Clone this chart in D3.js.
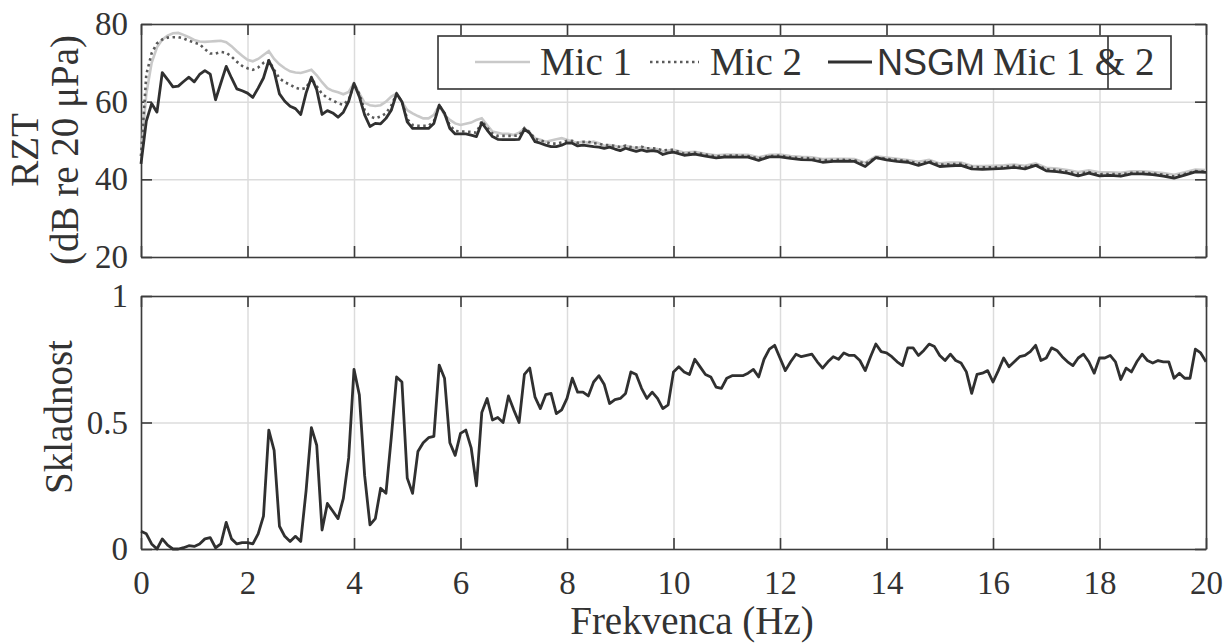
<!DOCTYPE html>
<html>
<head>
<meta charset="utf-8">
<script src="https://cdn.jsdelivr.net/npm/d3@7"></script>
</head>
<body style="margin:0">
<script>
let w = 1227;
let h = 643;

// frequency grid: 0.1 Hz up to 10 Hz, then 0.2 Hz up to 20 Hz (top panel)
let freqTop = d3.range(0, 101).map(i => i / 10).concat(d3.range(51, 101).map(i => i / 5));
// coherence is sampled at 0.1 Hz over the whole range
let freqCoh = d3.range(0, 201).map(i => i / 10);

let mic1 = [
  46, 62, 70, 74, 76, 77, 77.6, 77.7, 77.2, 76.6,
  75.9, 75.5, 75.4, 75.5, 75.6, 75.7, 75.3, 74.3, 73, 71.8,
  70.8, 70.4, 71, 72, 73, 71, 69.6, 68.6, 67.8, 67.5,
  67.4, 67.8, 68.2, 66.8, 65, 63.5, 62.8, 62.4, 61.9, 62.5,
  64.8, 62.1, 59.7, 59.1, 58.9, 59.1, 60, 61.3, 62.1, 60,
  57.8, 57, 56.3, 55.7, 55.7, 56.6, 59.1, 56.6, 55.3, 54.4,
  54, 54.3, 54.6, 55.3, 55.7, 54, 52.3, 52, 51.7, 51.7,
  51.4, 52, 53.1, 52, 50.6, 50.2, 49.7, 50, 50.3, 50.6,
  50.2, 49.7, 49.4, 49.7, 49.4, 49.7, 49.3, 48.6, 48.8, 48.6,
  48.3, 48.6, 48.3, 48, 48.3, 48, 47.8, 47.8, 47.2, 47.4,
  47.6,
  46.9, 47.1, 46.6, 46.2, 46.4, 46.3, 46.3, 45.7, 46.3, 46.4,
  46.0, 45.8, 45.7, 45.2, 45.3, 45.3, 45.2, 44.3, 45.9, 45.6,
  45.3, 45.0, 44.5, 45.0, 44.1, 44.3, 44.3, 43.5, 43.4, 43.5,
  43.6, 43.8, 43.5, 44.1, 43.0, 42.8, 42.4, 41.9, 42.3, 41.8,
  41.8, 41.7, 42.1, 42.1, 41.9, 41.6, 41.2, 41.8, 42.5, 42.4
];

let mic2 = [
  46, 67, 72.5, 75, 76, 76.5, 76.6, 76.6, 76.3, 75.7,
  75.2, 74.8, 73.5, 72.4, 72.4, 72.8, 72.6, 71.6, 70.3, 69.2,
  68.6, 68.2, 68.8, 70, 70.6, 68.2, 66, 65, 64.4, 63.6,
  63.2, 63.5, 66, 64, 62, 61, 60.3, 59.6, 59.2, 60.5,
  64.5, 62, 57.8, 56.2, 55.7, 56.2, 57, 59, 62, 60,
  55.5, 54, 53.8, 53.8, 53.8, 55, 59, 57, 53.8, 52.5,
  52.3, 52.3, 52.2, 52, 55, 53.3, 51.8, 51.2, 51.2, 51.2,
  51.2, 51.3, 53.2, 52.2, 50.4, 50, 49.6, 49.2, 49.2, 49.5,
  49.9, 49.9, 49.4, 49.6, 49.7, 49.3, 49.2, 48.8, 48.8, 48.6,
  48.3, 48.7, 48.3, 48.2, 48.4, 48, 48, 47.9, 47.4, 47.6,
  47.6,
  46.6, 46.9, 46.4, 45.9, 46.1, 46.1, 46.0, 45.4, 46.0, 46.1,
  45.7, 45.5, 45.4, 44.9, 45.0, 45.0, 44.9, 44.0, 45.6, 45.3,
  45.0, 44.7, 44.1, 44.7, 43.8, 43.9, 44.0, 43.2, 43.1, 43.1,
  43.2, 43.5, 43.1, 43.8, 42.6, 42.4, 42.0, 41.4, 41.9, 41.3,
  41.4, 41.3, 41.7, 41.8, 41.5, 41.2, 40.8, 41.4, 42.1, 42.0
];

let nsgm = [
  44, 55, 59.5, 57.3, 67.5, 65.7, 63.8, 64, 65.2, 66.3,
  65.1, 67, 68, 67.1, 60.5, 64.8, 69.1, 66.1, 63.3, 62.8,
  62.2, 61.1, 63.5, 66.1, 70.6, 67.8, 62, 60.1, 58.8, 58.2,
  56.7, 62.2, 66.3, 63.1, 56.7, 57.7, 57.1, 56, 57.3, 60.1,
  64.7, 61.3, 56.6, 53.6, 54.4, 54.3, 55.7, 57.8, 62.1, 60,
  54.8, 53.1, 53.1, 53.1, 53.1, 54.4, 59.1, 57, 53.1, 51.7,
  51.7, 51.7, 51.4, 51, 54.6, 52.7, 51, 50.3, 50.2, 50.2,
  50.2, 50.3, 52.9, 51.9, 49.7, 49.3, 48.8, 48.4, 48.4, 48.8,
  49.4, 49.3, 48.6, 48.8, 48.6, 48.4, 48.3, 48, 48.3, 47.8,
  47.4, 48, 47.6, 47.2, 47.6, 47.2, 47.4, 47.2, 46.4, 46.8,
  47.0,
  46.2, 46.5, 46.0, 45.5, 45.8, 45.7, 45.7, 44.9, 45.8, 45.8,
  45.4, 45.1, 45.0, 44.4, 44.6, 44.7, 44.6, 43.3, 45.6, 45.0,
  44.6, 44.4, 43.6, 44.4, 43.3, 43.5, 43.6, 42.7, 42.6, 42.7,
  42.8, 43.1, 42.7, 43.6, 42.2, 42.0, 41.6, 40.9, 41.6, 40.9,
  41.0, 40.8, 41.4, 41.4, 41.2, 40.8, 40.3, 41.1, 41.9, 41.8
];

let coherence = [
  0.07, 0.06, 0.02, 0.0, 0.04, 0.015, 0.0, 0.0, 0.005, 0.013,
  0.01, 0.02, 0.04, 0.045, 0.005, 0.02, 0.105, 0.04, 0.02, 0.025,
  0.025, 0.02, 0.06, 0.13, 0.47, 0.39, 0.09, 0.05, 0.03, 0.05,
  0.03, 0.23, 0.48, 0.41, 0.075, 0.18, 0.15, 0.12, 0.2, 0.36,
  0.71, 0.61, 0.29, 0.095, 0.12, 0.24, 0.22, 0.44, 0.68, 0.66,
  0.28, 0.22, 0.385, 0.42, 0.44, 0.445, 0.727, 0.675, 0.42, 0.37,
  0.457, 0.47, 0.40, 0.25, 0.54, 0.595, 0.51, 0.52, 0.50, 0.605,
  0.55, 0.50, 0.69, 0.715, 0.60, 0.555, 0.61, 0.615, 0.535, 0.55,
  0.595, 0.675, 0.62, 0.62, 0.605, 0.66, 0.685, 0.65, 0.575, 0.59,
  0.595, 0.615, 0.70, 0.69, 0.635, 0.595, 0.62, 0.595, 0.555, 0.57,
  0.70, 0.72, 0.70, 0.69, 0.75, 0.72, 0.69, 0.68, 0.64, 0.635,
  0.675, 0.685, 0.685, 0.685, 0.695, 0.71, 0.68, 0.75, 0.79, 0.805,
  0.755, 0.705, 0.74, 0.77, 0.76, 0.765, 0.77, 0.74, 0.715, 0.74,
  0.76, 0.75, 0.775, 0.765, 0.765, 0.745, 0.705, 0.76, 0.81, 0.78,
  0.775, 0.76, 0.74, 0.725, 0.795, 0.795, 0.765, 0.785, 0.81, 0.80,
  0.765, 0.745, 0.77, 0.745, 0.735, 0.70, 0.615, 0.69, 0.695, 0.705,
  0.66, 0.705, 0.755, 0.72, 0.74, 0.76, 0.765, 0.78, 0.805, 0.745,
  0.755, 0.795, 0.785, 0.76, 0.74, 0.725, 0.755, 0.77, 0.74, 0.695,
  0.755, 0.755, 0.765, 0.74, 0.67, 0.715, 0.70, 0.74, 0.77, 0.745,
  0.735, 0.745, 0.74, 0.74, 0.675, 0.695, 0.675, 0.675, 0.79, 0.775,
  0.74
];

let xTicks = [0, 2, 4, 6, 8, 10, 12, 14, 16, 18, 20];
let topTicks = [20, 40, 60, 80];
let bottomTicks = [0, 0.5, 1];
let legendNames = ["Mic 1", "Mic 2", "NSGM", "Mic 1 & 2"];

let viz = d3.select("body")
  .append("svg")
    .attr("width", w)
    .attr("height", h)
    .style("background-color", "white")
;

let left = 141, right = 1206;
let xScale = d3.scaleLinear().domain([0, 20]).range([left, right]);
let yTop = d3.scaleLinear().domain([20, 80]).range([257, 24]);
let yBot = d3.scaleLinear().domain([0, 1]).range([549, 296]);

function styleGrid(g){
  g.select(".domain").remove();
  g.selectAll("line").attr("stroke", "#dcdcdc").attr("stroke-width", 1.5);
}

function styleFrame(g){
  g.attr("font-family", null).attr("font-size", null);
  g.selectAll("line, path").attr("stroke", "#3c3c3c").attr("stroke-width", 1.6);
  g.selectAll(".tick text")
    .style("font-family", "'Liberation Serif'")
    .style("font-size", "33px")
    .attr("fill", "#333");
}

function drawPanel(yScale, ticks, fmt, showX){
  let y0 = yScale.range()[0], y1 = yScale.range()[1];

  // grid first
  viz.append("g")
    .attr("transform", "translate(0," + y0 + ")")
    .call(d3.axisBottom(xScale).tickValues(xTicks).tickSize(-(y0 - y1)).tickFormat(""))
    .call(styleGrid);
  viz.append("g")
    .attr("transform", "translate(" + left + ",0)")
    .call(d3.axisLeft(yScale).tickValues(ticks).tickSize(-(right - left)).tickFormat(""))
    .call(styleGrid);

  // box with inward ticks on all four sides
  viz.append("g")
    .attr("transform", "translate(0," + y0 + ")")
    .call(d3.axisBottom(xScale).tickValues(xTicks).tickSizeInner(-11).tickSizeOuter(0)
      .tickPadding(22).tickFormat(showX ? d3.format("d") : ""))
    .call(styleFrame);
  viz.append("g")
    .attr("transform", "translate(0," + y1 + ")")
    .call(d3.axisTop(xScale).tickValues(xTicks).tickSizeInner(-11).tickSizeOuter(0).tickFormat(""))
    .call(styleFrame);
  viz.append("g")
    .attr("transform", "translate(" + left + ",0)")
    .call(d3.axisLeft(yScale).tickValues(ticks).tickSizeInner(-11).tickSizeOuter(0)
      .tickPadding(13).tickFormat(fmt))
    .call(styleFrame);
  viz.append("g")
    .attr("transform", "translate(" + right + ",0)")
    .call(d3.axisRight(yScale).tickValues(ticks).tickSizeInner(-11).tickSizeOuter(0).tickFormat(""))
    .call(styleFrame);
}

drawPanel(yTop, topTicks, d3.format("d"), false);
drawPanel(yBot, bottomTicks, d => d === 0.5 ? "0.5" : d3.format("d")(d), true);

// lines
let topLine = d3.line()
  .x((d, i) => xScale(freqTop[i]))
  .y(d => yTop(d));

viz.append("path").datum(mic1)
  .attr("d", topLine)
  .attr("fill", "none")
  .attr("stroke", "#c9c9c9")
  .attr("stroke-width", 2.6);

viz.append("path").datum(mic2)
  .attr("d", topLine)
  .attr("fill", "none")
  .attr("stroke", "#5a5a5a")
  .attr("stroke-width", 2.6)
  .attr("stroke-dasharray", "2.5,3.5");

viz.append("path").datum(nsgm)
  .attr("d", topLine)
  .attr("fill", "none")
  .attr("stroke", "#303030")
  .attr("stroke-width", 2.8)
  .attr("stroke-linejoin", "round");

let cohLine = d3.line()
  .x((d, i) => xScale(freqCoh[i]))
  .y(d => yBot(d));

viz.append("path").datum(coherence)
  .attr("d", cohLine)
  .attr("fill", "none")
  .attr("stroke", "#303030")
  .attr("stroke-width", 2.8)
  .attr("stroke-linejoin", "round");

// legend (box is drawn a bit too narrow in the original, hence the extra divider)
let legend = viz.append("g");
legend.append("rect")
  .attr("x", 438).attr("y", 36)
  .attr("width", 733).attr("height", 53)
  .attr("fill", "white")
  .attr("stroke", "#333")
  .attr("stroke-width", 1.6);
legend.append("line")
  .attr("x1", 1108).attr("x2", 1108).attr("y1", 36).attr("y2", 89)
  .attr("stroke", "#333").attr("stroke-width", 1.6);

legend.append("line").attr("x1", 475).attr("x2", 530).attr("y1", 62).attr("y2", 62)
  .attr("stroke", "#c9c9c9").attr("stroke-width", 2.6);
legend.append("line").attr("x1", 650).attr("x2", 699).attr("y1", 62).attr("y2", 62)
  .attr("stroke", "#5a5a5a").attr("stroke-width", 2.6).attr("stroke-dasharray", "2.5,3.5");
legend.append("line").attr("x1", 828).attr("x2", 872).attr("y1", 62).attr("y2", 62)
  .attr("stroke", "#303030").attr("stroke-width", 2.8);

legend.selectAll(".label").data([[540, 0], [710, 1], [877, 2], [993, 3]]).enter()
  .append("text")
    .attr("x", d => d[0]).attr("y", 75)
    .style("font-family", d => d[1] === 2 ? "'Liberation Sans'" : "'Liberation Serif'")
    .style("font-size", d => d[1] === 2 ? "36px" : "39px")
    .attr("fill", "#333")
    .text(d => legendNames[d[1]]);

// axis titles
viz.append("text")
  .attr("x", 692).attr("y", 634)
  .attr("text-anchor", "middle")
  .style("font-family", "'Liberation Serif'").style("font-size", "39px").attr("fill", "#333")
  .text("Frekvenca (Hz)");

let yTitles = [["RZT", 38, 150], ["(dB re 20 μPa)", 78, 150], ["Skladnost", 72, 417]];
viz.selectAll(".ytitle").data(yTitles).enter()
  .append("text")
    .attr("transform", d => "translate(" + d[1] + "," + d[2] + ") rotate(-90)")
    .attr("text-anchor", "middle")
    .style("font-family", "'Liberation Serif'")
    .style("font-size", "39px")
    .attr("fill", "#333")
    .text(d => d[0]);
</script>
</body>
</html>
